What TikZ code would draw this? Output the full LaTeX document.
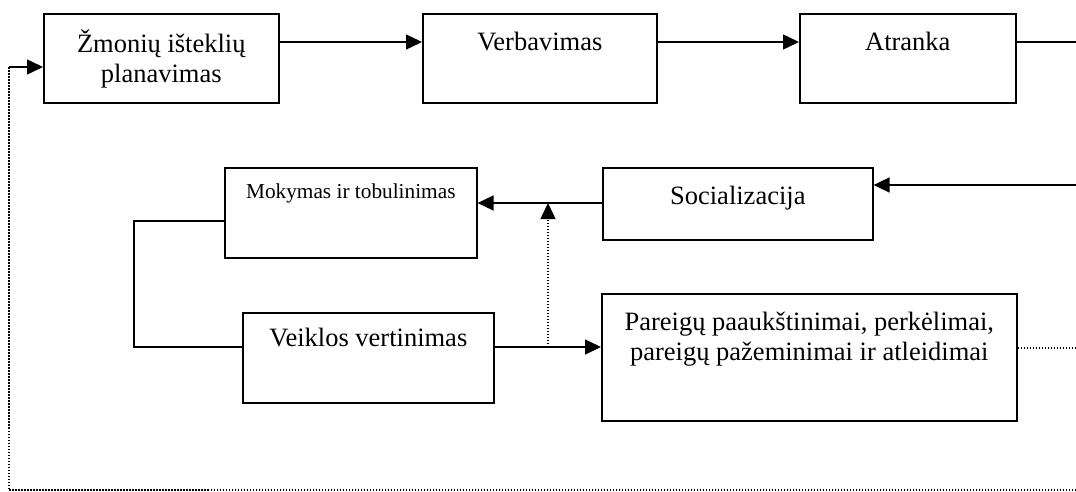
\documentclass[tikz,border=0pt]{standalone}
\usepackage{fontspec}
\setmainfont{Liberation Serif}
\usetikzlibrary{arrows.meta}
% text block of a box: width, height, first baseline, text
\newcommand{\boxtext}[4]{\parbox[t][#2][t]{#1}{\centering\rule{0pt}{#3}#4}}
\newcommand{\bigfont}{\fontsize{13.25pt}{15pt}\selectfont}
\newcommand{\smallfont}{\fontsize{10.65pt}{12.5pt}\selectfont}

\begin{document}
\begin{tikzpicture}[x=0.5pt,y=-0.5pt,>={Triangle[length=8pt,width=7.5pt]},line width=0.75pt,
  box/.style={draw,line width=0.8pt,inner sep=0pt,anchor=north west},
  dotline/.style={dash pattern=on 0.75pt off 0.75pt}]
\useasboundingbox (0,0) rectangle (1076,492);
% boxes
\node[box] (plan) at (43,13) {\bigfont\boxtext{117.5pt}{44.5pt}{19.5pt}{Žmonių išteklių\\planavimas}};
\node[box] (verb) at (422,13) {\bigfont\boxtext{117pt}{44.5pt}{18.5pt}{Verbavimas}};
\node[box] (atr) at (799,13) {\bigfont\boxtext{108pt}{44.5pt}{18.5pt}{Atranka}};
\node[box] (soc) at (602,167) {\bigfont\boxtext{135pt}{36pt}{18.5pt}{Socializacija}};
\node[box] (mok) at (224,167) {\smallfont\boxtext{126pt}{45pt}{15.5pt}{Mokymas ir tobulinimas}};
\node[box] (veik) at (242,312) {\bigfont\boxtext{125.5pt}{45pt}{17pt}{Veiklos vertinimas}};
\node[box] (par) at (601,293) {\bigfont\boxtext{207.5pt}{63.5pt}{18.5pt}{Pareigų paaukštinimai, perkėlimai,\\pareigų pažeminimai ir atleidimai}};
% rows and free ends
\coordinate (r1) at (0,42);
\coordinate (r2) at (0,203);
\coordinate (r3) at (0,347);
\coordinate (atrout) at (1076,42);
\coordinate (socin) at (1076,185);
\coordinate (fb) at (548,347);
\coordinate (lft) at (134,221);
\coordinate (parout) at (1076,348);
\coordinate (back) at (1076,490);
\coordinate (corner) at (9,490);
\coordinate (r4) at (9,67);
% connectors
\draw[->] (plan.east |- r1) -- (verb.west |- r1);
\draw[->] (verb.east |- r1) -- (atr.west |- r1);
\draw (atr.east |- r1) -- (atrout);
\draw[->] (socin) -- (soc.east |- socin);
\draw[->] (soc.west |- r2) -- (mok.east |- r2);
\draw (mok.west |- lft) -- (lft) |- (veik.west |- r3);
\draw[->] (veik.east |- r3) -- (par.west |- r3);
\draw[dotline,->] (fb) -- (fb |- r2);
\draw[dotline] (par.east |- parout) -- (parout);
\draw[dotline] (back) -- (corner) -- (r4);
\draw[->] (r4) -- (plan.west |- r4);
\end{tikzpicture}
\end{document}
